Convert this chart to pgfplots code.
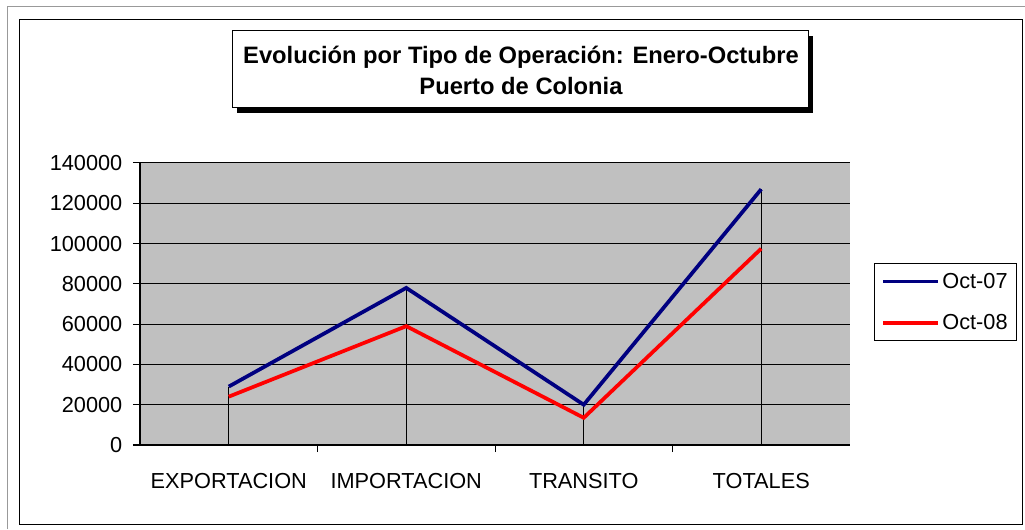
\documentclass[border=0pt]{standalone}
\usepackage{fontspec}
\setmainfont{Liberation Sans}
\usepackage{pgfplots}
\pgfplotsset{compat=1.18}
\definecolor{navyblue}{RGB}{0,0,128}
\definecolor{plotgray}{RGB}{192,192,192}
\begin{document}
\begin{tikzpicture}[x=0.75pt,y=0.75pt]
\path[use as bounding box] (0,0) rectangle (1025,529);
% outer frames (image coords: Y = 529 - y)
\draw[gray!80, line width=0.75pt] (7,0) -- (7,522) -- (1025,522);
\draw[black, line width=0.75pt] (19,5) rectangle (1022,509);
% title box with shadow
\fill[black] (237,416) rectangle (813,493);
\draw[black, fill=white, line width=0.75pt] (232,421) rectangle (808,498);
\node[font=\bfseries\fontsize{17.8}{23}\selectfont, align=center] at (521,458.5)
  {Evolución por Tipo de Operación: Enero-Octubre\\Puerto de Colonia};
\begin{axis}[
  at={(105pt,63pt)}, anchor=south west,
  scale only axis, width=532.5pt, height=211.5pt,
  xmin=-0.5, xmax=3.5, ymin=0, ymax=140000,
  axis background/.style={fill=plotgray},
  axis x line=bottom, axis y line=left,
  axis line style={-, line width=0.9pt},
  ytick={0,20000,...,140000},
  ymajorgrids, grid style={black, line width=0.75pt},
  tick align=outside, major tick length=5.25pt,
  tick style={black, line width=0.75pt},
  xtick={0.5,1.5,2.5}, xticklabels={},
  extra x ticks={0,1,2,3},
  extra x tick labels={EXPORTACION,IMPORTACION,TRANSITO,TOTALES},
  extra x tick style={major tick length=0pt, grid=none, xticklabel style={yshift=-18pt}},
  scaled y ticks=false,
  /pgf/number format/assume math mode=true,
  yticklabel={\pgfmathprintnumber[fixed,1000 sep={}]{\tick}},
  ticklabel style={font=\fontsize{16.3}{18}\selectfont},
  yticklabel style={xshift=-4.5pt},
  legend style={at={(1.034,0.645)}, anchor=north west, draw=black, line width=0.75pt,
    font=\fontsize{16.3}{18}\selectfont, row sep=14pt, inner sep=5pt},
  legend cell align=left,
  legend image code/.code={\draw[#1] (0pt,0pt) -- (41pt,0pt);},
]
\addplot[ycomb, black, line width=0.9pt, mark=none, forget plot]
  coordinates {(0,29000) (1,78000) (2,20000) (3,127000)};
\addplot[navyblue, line width=2.8pt, mark=none]
  coordinates {(0,29000) (1,78000) (2,20000) (3,127000)};
\addlegendentry{Oct-07}
\addplot[red, line width=2.8pt, mark=none]
  coordinates {(0,24000) (1,59000) (2,13500) (3,97500)};
\addlegendentry{Oct-08}
\end{axis}
\end{tikzpicture}
\end{document}
